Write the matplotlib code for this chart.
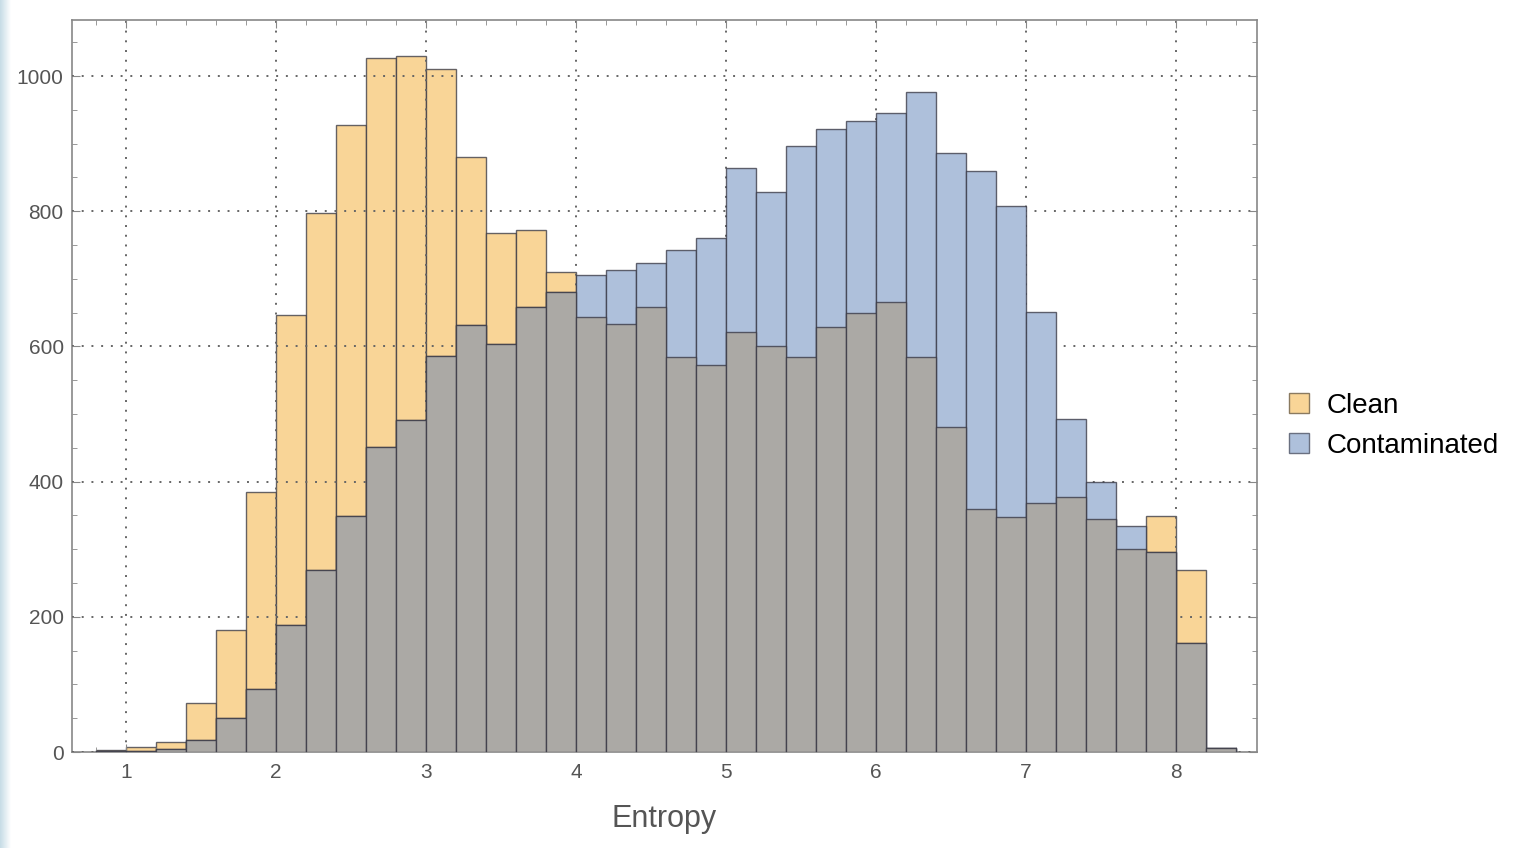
import matplotlib
matplotlib.use('Agg')
import matplotlib.pyplot as plt
import numpy as np
from matplotlib.patches import Patch
from matplotlib.ticker import MultipleLocator

plt.rcParams['font.family'] = ['Liberation Sans', 'DejaVu Sans']

# Histogram data: bins of width 0.2 from 0.8 to 8.4
bin_edges = np.round(np.arange(0.8, 8.41, 0.2), 2)
clean = [3, 8, 15, 73, 180, 385, 647, 798, 928, 1027, 1029, 1010, 880, 768, 772, 710,
         643, 633, 658, 585, 573, 621, 601, 584, 629, 650, 666, 584, 481, 359, 347,
         368, 378, 345, 300, 349, 270, 6]
contaminated = [2, 2, 5, 18, 51, 93, 188, 269, 349, 451, 491, 586, 632, 604, 659, 680,
                706, 713, 723, 742, 760, 864, 828, 896, 922, 933, 945, 977, 886, 859, 808,
                651, 493, 400, 335, 296, 161, 6]
labels = ["Clean", "Contaminated"]

CLEAN_COLOR = "#f9d597"
CONTAM_COLOR = "#aec0db"
OVERLAP_COLOR = "#aba9a5"
EDGE = (0.2, 0.2, 0.25, 0.75)

fig = plt.figure(figsize=(15.14, 8.48), dpi=100)

# pale gradient strip on the left edge
grad = fig.add_axes([0, 0, 0.007, 1])
grad.imshow(np.linspace(0, 1, 50).reshape(1, -1), cmap=matplotlib.colors.LinearSegmentedColormap.from_list(
    "g", ["#c6dce6", "#ffffff"]), aspect="auto", extent=(0, 1, 0, 1))
grad.axis("off")

ax = fig.add_axes([72 / 1514, 1 - 752 / 848, (1257 - 72) / 1514, (752 - 20) / 848])

left = bin_edges[:-1]
width = np.diff(bin_edges)
clean_a = np.array(clean)
contam_a = np.array(contaminated)
overlap = np.minimum(clean_a, contam_a)

ax.bar(left, clean_a, width=width, align="edge", color=CLEAN_COLOR, edgecolor=EDGE, linewidth=1.0, zorder=2)
ax.bar(left, contam_a, width=width, align="edge", color=CONTAM_COLOR, edgecolor=EDGE, linewidth=1.0, zorder=3)
ax.bar(left, overlap, width=width, align="edge", color=OVERLAP_COLOR, edgecolor=EDGE, linewidth=1.0, zorder=4)

ax.set_xlim(0.64, 8.54)
ax.set_ylim(0, 1083)
ax.xaxis.set_major_locator(MultipleLocator(1))
ax.xaxis.set_minor_locator(MultipleLocator(0.2))
ax.yaxis.set_major_locator(MultipleLocator(200))
ax.yaxis.set_minor_locator(MultipleLocator(50))
ax.tick_params(which="both", direction="in", top=True, right=True, colors="#888888",
               labelcolor="#555555", labelsize=15)
ax.tick_params(which="major", length=6)
ax.tick_params(which="minor", length=3.5)
ax.tick_params(axis="x", pad=8)
ax.tick_params(axis="y", pad=6)
ax.grid(True, which="major", linestyle=(0, (1, 4)), color="#666666", linewidth=1.4, zorder=5)
ax.set_axisbelow(False)
for s in ax.spines.values():
    s.set_color("#888888")
    s.set_linewidth(1.2)

ax.set_xlabel("Entropy", fontsize=22, color="#555555", labelpad=16)

handles = [Patch(facecolor=CLEAN_COLOR, edgecolor="#8a7a60"),
           Patch(facecolor=CONTAM_COLOR, edgecolor="#6a7080")]
fig.legend(handles, labels, loc="center left", bbox_to_anchor=(1289 / 1514, 1 - 426 / 848),
           frameon=False, fontsize=20, handlelength=0.72, handleheight=0.72,
           handletextpad=0.62, labelspacing=0.5, borderpad=0, borderaxespad=0)

fig.savefig("out.png", dpi=100)
